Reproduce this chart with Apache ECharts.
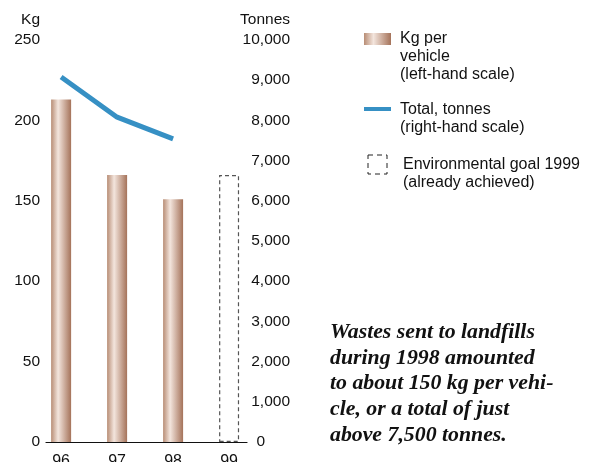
<!DOCTYPE html>
<html>
<head>
<meta charset="utf-8">
<script src="https://cdn.jsdelivr.net/npm/echarts@6/dist/echarts.min.js"></script>
<style>html,body{margin:0;padding:0;background:#fff;}#c{width:600px;height:462px;}</style>
</head>
<body>
<div id="c"></div>
<script>
var categories = ['96', '97', '98', '99'];
var kgPerVehicle = [213, 166, 151];
var goal1999 = 166;
var totalTonnes = [9080, 8080, 7540];
var leftTicks = [0, 50, 100, 150, 200, 250];
var rightTicks = [0, 1000, 2000, 3000, 4000, 5000, 6000, 7000, 8000, 9000, 10000];

var FONT = 'Liberation Sans';
function grad() {
  return new echarts.graphic.LinearGradient(0, 0, 1, 0, [
    {offset: 0, color: '#b88d75'},
    {offset: 0.35, color: '#f3e5dd'},
    {offset: 1, color: '#a5735a'}
  ]);
}

function fmt(v) { return String(v).replace(/\B(?=(\d{3})+(?!\d))/g, ','); }

var chart = echarts.init(document.getElementById('c'), null, {renderer: 'canvas'});
chart.setOption({
  animation: false,
  grid: {left: 46, top: 40, width: 201, height: 402, outerBoundsMode: 'none', containLabel: false},
  xAxis: {
    type: 'value', min: -0.27, max: 3.32,
    splitLine: {show: false},
    axisTick: {show: false},
    axisLine: {show: true, lineStyle: {color: '#111', width: 1.2}},
    axisLabel: {
      customValues: [0, 1, 2, 3],
      formatter: function (v) { return categories[Math.round(v)]; },
      margin: 12, color: '#111', fontFamily: FONT, fontSize: 16
    }
  },
  yAxis: [{
    type: 'value', min: 0, max: 250, interval: 50,
    splitLine: {show: false}, axisLine: {show: false}, axisTick: {show: false},
    axisLabel: {margin: 6, color: '#111', fontFamily: FONT, fontSize: 15.5}
  }, {
    type: 'value', min: 0, max: 10000, interval: 1000, position: 'right',
    splitLine: {show: false}, axisLine: {show: false}, axisTick: {show: false},
    axisLabel: {
      margin: 43, align: 'right', color: '#111', fontFamily: FONT, fontSize: 15.5,
      formatter: function (v) { return v === 0 ? '{z|0}' : fmt(v); },
      rich: {z: {fontFamily: FONT, fontSize: 15.5, color: '#111', padding: [0, 25, 0, 0]}}
    }
  }],
  series: [{
    type: 'bar', name: 'Kg per vehicle', yAxisIndex: 0, barWidth: 20, barGap: '-100%',
    data: kgPerVehicle.map(function (v, i) { return [i, v]; }),
    itemStyle: {color: grad()}
  }, {
    type: 'bar', name: 'Environmental goal 1999', yAxisIndex: 0, barWidth: 20, barGap: '-100%',
    data: [[3, goal1999]],
    itemStyle: {color: 'rgba(0,0,0,0)', borderColor: '#555', borderWidth: 1.2, borderType: [4, 3]}
  }, {
    type: 'line', name: 'Total, tonnes', yAxisIndex: 1, symbol: 'none',
    data: totalTonnes.map(function (v, i) { return [i, v]; }),
    lineStyle: {color: '#3690c4', width: 5, cap: 'butt'}
  }],
  graphic: [
    {type: 'text', x: 40, y: 12, style: {text: 'Kg', font: '15.5px ' + FONT, fill: '#111', align: 'right'}},
    {type: 'text', x: 290, y: 12, style: {text: 'Tonnes', font: '15.5px ' + FONT, fill: '#111', align: 'right'}},
    {type: 'rect', shape: {x: 364, y: 33, width: 27, height: 12}, style: {fill: grad()}},
    {type: 'text', x: 400, y: 30, style: {text: 'Kg per\nvehicle\n(left-hand scale)', font: '16px ' + FONT, fill: '#111', lineHeight: 18}},
    {type: 'rect', shape: {x: 364, y: 107, width: 27, height: 4}, style: {fill: '#3690c4'}},
    {type: 'text', x: 400, y: 101, style: {text: 'Total, tonnes\n(right-hand scale)', font: '16px ' + FONT, fill: '#111', lineHeight: 18}},
    {type: 'rect', shape: {x: 368, y: 155, width: 19, height: 19}, style: {fill: 'none', stroke: '#222', lineWidth: 1, lineDash: [5, 4]}},
    {type: 'text', x: 403, y: 156, style: {text: 'Environmental goal 1999\n(already achieved)', font: '16px ' + FONT, fill: '#111', lineHeight: 18}},
    {type: 'text', x: 330, y: 319.5, style: {
      text: 'Wastes sent to landfills\nduring 1998 amounted\nto about 150 kg per vehi-\ncle, or a total of just\nabove 7,500 tonnes.',
      font: 'italic bold 21.8px "Liberation Serif"', fill: '#111', lineHeight: 25.7}}
  ]
});
</script>
</body>
</html>
